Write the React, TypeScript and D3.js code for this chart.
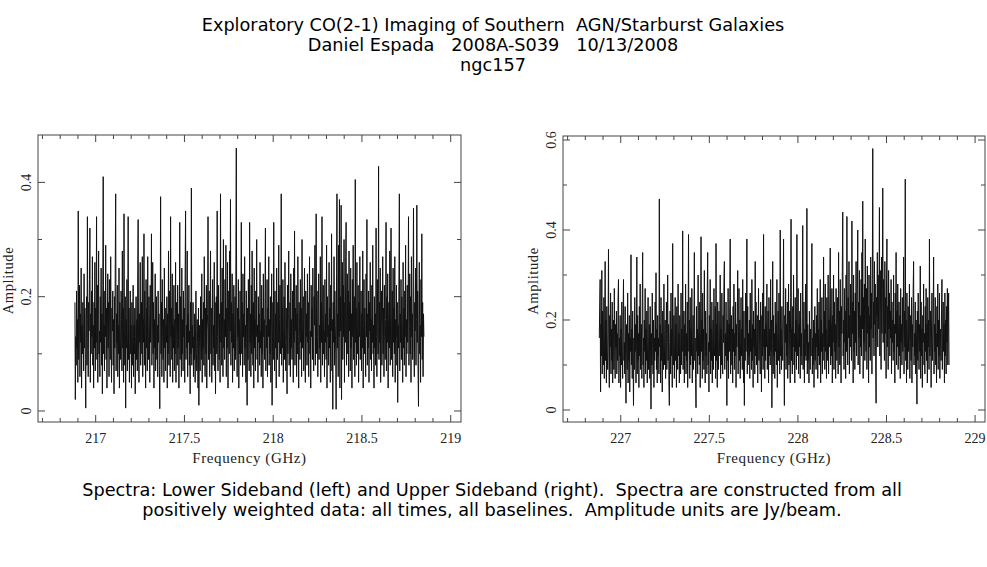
import * as d3 from "d3";
import { useEffect, useRef } from "react";

// amplitude (Jy/beam) per channel
const lsbAmp = [
  0.19, 0.02, 0.13, 0.08, 0.21, 0.11, 0.16, 0.05, 0.35, 0.09, 0.14, 0.22, 0.06, 0.17, 0.12, 0.25, 0.04, 0.15, 0.10, 0.19,
  0.13, 0.07, 0.24, 0.11, 0.18, 0.09, 0.005, 0.16, 0.20, 0.08, 0.34, 0.12, 0.06, 0.19, 0.14, 0.23, 0.32, 0.05, 0.17, 0.10,
  0.21, 0.13, 0.27, 0.08, 0.15, 0.04, 0.19, 0.11, 0.26, 0.07, 0.18, 0.12, 0.34, 0.09, 0.22, 0.05, 0.16, 0.28, 0.10, 0.14,
  0.06, 0.20, 0.12, 0.25, 0.08, 0.17, 0.03, 0.22, 0.41, 0.10, 0.15, 0.07, 0.21, 0.13, 0.29, 0.09, 0.18, 0.04, 0.14, 0.24,
  0.11, 0.19, 0.06, 0.23, 0.15, 0.09, 0.27, 0.12, 0.05, 0.18, 0.14, 0.21, 0.08, 0.16, 0.03, 0.20, 0.11, 0.26, 0.38, 0.07,
  0.17, 0.12, 0.22, 0.06, 0.15, 0.10, 0.25, 0.04, 0.19, 0.13, 0.09, 0.21, 0.16, 0.07, 0.28, 0.11, 0.18, 0.05, 0.345, 0.14,
  0.08, 0.20, 0.005, 0.16, 0.11, 0.23, 0.07, 0.14, 0.34, 0.09, 0.18, 0.05, 0.12, 0.21, 0.10, 0.15, 0.04, 0.19, 0.08, 0.13,
  0.22, 0.06, 0.15, 0.10, 0.18, 0.03, 0.13, 0.20, 0.09, 0.16, 0.07, 0.24, 0.335, 0.11, 0.05, 0.17, 0.12, 0.26, 0.08, 0.14,
  0.19, 0.10, 0.27, 0.06, 0.16, 0.12, 0.31, 0.08, 0.21, 0.14, 0.04, 0.23, 0.11, 0.18, 0.07, 0.27, 0.13, 0.09, 0.20, 0.15,
  0.05, 0.22, 0.12, 0.17, 0.31, 0.08, 0.14, 0.26, 0.10, 0.19, 0.04, 0.16, 0.11, 0.24, 0.07, 0.13, 0.20, 0.09, 0.15, 0.06,
  0.21, 0.12, 0.17, 0.08, 0.004, 0.14, 0.375, 0.10, 0.19, 0.06, 0.23, 0.13, 0.09, 0.16, 0.05, 0.25, 0.11, 0.18, 0.07, 0.15,
  0.12, 0.20, 0.04, 0.17, 0.10, 0.28, 0.08, 0.14, 0.21, 0.06, 0.34, 0.13, 0.18, 0.09, 0.24, 0.05, 0.15, 0.11, 0.22, 0.07,
  0.16, 0.10, 0.26, 0.05, 0.19, 0.13, 0.08, 0.22, 0.11, 0.17, 0.04, 0.14, 0.33, 0.09, 0.20, 0.12, 0.06, 0.25, 0.10, 0.16,
  0.07, 0.21, 0.13, 0.18, 0.05, 0.24, 0.35, 0.09, 0.15, 0.11, 0.28, 0.06, 0.17, 0.12, 0.22, 0.08, 0.14, 0.03, 0.19, 0.10,
  0.39, 0.08, 0.15, 0.11, 0.19, 0.06, 0.13, 0.09, 0.17, 0.05, 0.14, 0.21, 0.10, 0.07, 0.16, 0.12, 0.04, 0.18, 0.01, 0.11,
  0.15, 0.07, 0.20, 0.12, 0.09, 0.24, 0.05, 0.16, 0.11, 0.19, 0.08, 0.27, 0.13, 0.06, 0.18, 0.10, 0.22, 0.04, 0.14, 0.17,
  0.34, 0.09, 0.12, 0.21, 0.06, 0.16, 0.28, 0.10, 0.18, 0.05, 0.13, 0.23, 0.08, 0.15, 0.11, 0.26, 0.07, 0.19, 0.03, 0.14,
  0.20, 0.10, 0.35, 0.13, 0.07, 0.22, 0.15, 0.09, 0.17, 0.05, 0.38, 0.12, 0.19, 0.08, 0.25, 0.14, 0.06, 0.30, 0.11, 0.16,
  0.09, 0.23, 0.13, 0.29, 0.06, 0.18, 0.11, 0.26, 0.04, 0.15, 0.21, 0.10, 0.28, 0.14, 0.37, 0.08, 0.19, 0.12, 0.24, 0.05,
  0.17, 0.11, 0.22, 0.07, 0.14, 0.20, 0.09, 0.26, 0.46, 0.12, 0.06, 0.18, 0.13, 0.23, 0.04, 0.16, 0.10, 0.21, 0.08, 0.15,
  0.33, 0.10, 0.19, 0.06, 0.24, 0.13, 0.17, 0.08, 0.27, 0.11, 0.15, 0.05, 0.21, 0.12, 0.01, 0.18, 0.09, 0.23, 0.14, 0.07,
  0.33, 0.12, 0.17, 0.06, 0.22, 0.10, 0.28, 0.14, 0.08, 0.19, 0.04, 0.25, 0.11, 0.16, 0.07, 0.21, 0.13, 0.30, 0.09, 0.15,
  0.05, 0.20, 0.12, 0.17, 0.08, 0.26, 0.11, 0.14, 0.06, 0.22, 0.10, 0.18, 0.04, 0.24, 0.13, 0.16, 0.09, 0.21, 0.32, 0.07,
  0.15, 0.11, 0.23, 0.06, 0.18, 0.13, 0.27, 0.08, 0.16, 0.10, 0.20, 0.05, 0.14, 0.24, 0.01, 0.12, 0.19, 0.09, 0.33, 0.13,
  0.07, 0.21, 0.11, 0.17, 0.04, 0.25, 0.14, 0.09, 0.19, 0.12, 0.29, 0.06, 0.16, 0.22, 0.10, 0.13, 0.38, 0.08, 0.18, 0.11,
  0.23, 0.05, 0.15, 0.20, 0.09, 0.26, 0.12, 0.07, 0.18, 0.14, 0.03, 0.22, 0.10, 0.17, 0.28, 0.08, 0.13, 0.19, 0.06, 0.24,
  0.11, 0.16, 0.09, 0.21, 0.13, 0.05, 0.25, 0.12, 0.315, 0.08, 0.18, 0.14, 0.22, 0.06, 0.17, 0.10, 0.27, 0.13, 0.04, 0.19,
  0.15, 0.09, 0.23, 0.12, 0.18, 0.06, 0.30, 0.11, 0.14, 0.20, 0.07, 0.16, 0.25, 0.10, 0.05, 0.21, 0.13, 0.17, 0.08, 0.24,
  0.12, 0.19, 0.06, 0.16, 0.27, 0.10, 0.14, 0.04, 0.22, 0.13, 0.18, 0.09, 0.25, 0.11, 0.07, 0.20, 0.15, 0.29, 0.08, 0.17,
  0.345, 0.10, 0.21, 0.13, 0.06, 0.18, 0.24, 0.09, 0.15, 0.11, 0.27, 0.05, 0.19, 0.12, 0.34, 0.08, 0.16, 0.22, 0.10, 0.14,
  0.06, 0.23, 0.12, 0.17, 0.09, 0.29, 0.04, 0.20, 0.13, 0.15, 0.08, 0.26, 0.11, 0.18, 0.05, 0.22, 0.14, 0.31, 0.07, 0.16,
  0.003, 0.19, 0.12, 0.27, 0.08, 0.21, 0.15, 0.10, 0.003, 0.24, 0.38, 0.11, 0.17, 0.06, 0.29, 0.13, 0.37, 0.04, 0.20, 0.14,
  0.36, 0.02, 0.18, 0.26, 0.09, 0.22, 0.13, 0.30, 0.05, 0.19, 0.12, 0.27, 0.33, 0.08, 0.16, 0.24, 0.10, 0.21, 0.06, 0.28,
  0.14, 0.19, 0.07, 0.25, 0.11, 0.17, 0.04, 0.23, 0.13, 0.29, 0.09, 0.15, 0.20, 0.06, 0.405, 0.12, 0.18, 0.08, 0.26, 0.10,
  0.16, 0.22, 0.05, 0.19, 0.13, 0.27, 0.09, 0.14, 0.21, 0.07, 0.17, 0.11, 0.28, 0.04, 0.15, 0.23, 0.10, 0.18, 0.12, 0.06,
  0.24, 0.13, 0.335, 0.08, 0.17, 0.11, 0.21, 0.05, 0.19, 0.14, 0.26, 0.09, 0.16, 0.07, 0.22, 0.12, 0.29, 0.10, 0.15, 0.04,
  0.20, 0.11, 0.17, 0.08, 0.32, 0.13, 0.06, 0.23, 0.15, 0.10, 0.428, 0.09, 0.19, 0.12, 0.25, 0.05, 0.16, 0.21, 0.08, 0.14,
  0.27, 0.10, 0.18, 0.06, 0.22, 0.13, 0.09, 0.16, 0.33, 0.07, 0.20, 0.12, 0.24, 0.04, 0.15, 0.19, 0.11, 0.28, 0.08, 0.17,
  0.32, 0.09, 0.14, 0.21, 0.06, 0.25, 0.12, 0.18, 0.10, 0.27, 0.05, 0.16, 0.13, 0.22, 0.08, 0.19, 0.015, 0.15, 0.11, 0.24,
  0.38, 0.07, 0.17, 0.12, 0.23, 0.09, 0.20, 0.14, 0.05, 0.26, 0.11, 0.18, 0.08, 0.21, 0.13, 0.29, 0.06, 0.16, 0.10, 0.22,
  0.12, 0.18, 0.34, 0.08, 0.15, 0.24, 0.10, 0.20, 0.05, 0.27, 0.13, 0.17, 0.09, 0.22, 0.355, 0.11, 0.06, 0.19, 0.14, 0.25,
  0.08, 0.16, 0.36, 0.12, 0.21, 0.07, 0.008, 0.18, 0.26, 0.10, 0.15, 0.05, 0.23, 0.13, 0.31, 0.09, 0.19, 0.06, 0.17, 0.13,
];

const usbAmp = [
  0.16, 0.24, 0.29, 0.04, 0.19, 0.12, 0.31, 0.08, 0.22, 0.15, 0.10, 0.25, 0.07, 0.18, 0.33, 0.11, 0.20, 0.06, 0.23, 0.13,
  0.09, 0.17, 0.357, 0.12, 0.05, 0.21, 0.14, 0.26, 0.08, 0.18, 0.11, 0.24, 0.06, 0.15, 0.20, 0.09, 0.27, 0.13, 0.07, 0.19,
  0.14, 0.22, 0.08, 0.17, 0.11, 0.25, 0.29, 0.06, 0.16, 0.12, 0.21, 0.05, 0.18, 0.10, 0.24, 0.13, 0.07, 0.20, 0.29, 0.11,
  0.15, 0.08, 0.23, 0.12, 0.015, 0.19, 0.14, 0.09, 0.26, 0.06, 0.17, 0.11, 0.21, 0.04, 0.16, 0.13, 0.345, 0.10, 0.18, 0.07,
  0.22, 0.12, 0.01, 0.16, 0.09, 0.25, 0.13, 0.19, 0.06, 0.14, 0.34, 0.08, 0.21, 0.11, 0.17, 0.05, 0.23, 0.12, 0.28, 0.09,
  0.15, 0.19, 0.07, 0.24, 0.35, 0.10, 0.16, 0.05, 0.20, 0.13, 0.27, 0.08, 0.18, 0.11, 0.22, 0.06, 0.15, 0.25, 0.09, 0.14,
  0.19, 0.07, 0.23, 0.12, 0.002, 0.17, 0.10, 0.26, 0.14, 0.08, 0.20, 0.05, 0.16, 0.11, 0.24, 0.13, 0.305, 0.09, 0.18, 0.06,
  0.21, 0.12, 0.16, 0.08, 0.469, 0.14, 0.19, 0.06, 0.25, 0.11, 0.17, 0.04, 0.22, 0.13, 0.09, 0.28, 0.10, 0.15, 0.20, 0.07,
  0.13, 0.24, 0.09, 0.17, 0.30, 0.11, 0.19, 0.06, 0.01, 0.15, 0.22, 0.08, 0.26, 0.12, 0.18, 0.05, 0.37, 0.14, 0.10, 0.21,
  0.07, 0.16, 0.25, 0.11, 0.19, 0.05, 0.23, 0.13, 0.09, 0.28, 0.12, 0.17, 0.06, 0.21, 0.14, 0.08, 0.26, 0.10, 0.18, 0.13,
  0.398, 0.09, 0.15, 0.22, 0.06, 0.19, 0.12, 0.28, 0.08, 0.17, 0.11, 0.24, 0.05, 0.16, 0.39, 0.13, 0.20, 0.07, 0.25, 0.10,
  0.18, 0.12, 0.27, 0.06, 0.15, 0.21, 0.09, 0.19, 0.35, 0.11, 0.16, 0.07, 0.005, 0.23, 0.13, 0.18, 0.08, 0.30, 0.12, 0.17,
  0.10, 0.24, 0.05, 0.16, 0.385, 0.13, 0.20, 0.07, 0.26, 0.11, 0.18, 0.09, 0.31, 0.14, 0.06, 0.22, 0.12, 0.17, 0.08, 0.27,
  0.35, 0.10, 0.15, 0.04, 0.21, 0.13, 0.29, 0.08, 0.18, 0.11, 0.24, 0.06, 0.16, 0.20, 0.09, 0.27, 0.12, 0.14, 0.23, 0.07,
  0.37, 0.11, 0.19, 0.05, 0.24, 0.14, 0.09, 0.22, 0.16, 0.12, 0.30, 0.07, 0.18, 0.10, 0.26, 0.13, 0.08, 0.21, 0.15, 0.28,
  0.33, 0.09, 0.17, 0.12, 0.24, 0.16, 0.01, 0.20, 0.11, 0.27, 0.07, 0.19, 0.13, 0.25, 0.38, 0.08, 0.15, 0.21, 0.10, 0.18,
  0.06, 0.23, 0.13, 0.28, 0.09, 0.17, 0.12, 0.24, 0.05, 0.19, 0.14, 0.21, 0.31, 0.08, 0.16, 0.27, 0.11, 0.20, 0.07, 0.15,
  0.25, 0.12, 0.18, 0.09, 0.29, 0.14, 0.06, 0.22, 0.01, 0.16, 0.11, 0.26, 0.13, 0.19, 0.38, 0.08, 0.23, 0.10, 0.17, 0.12,
  0.20, 0.07, 0.26, 0.13, 0.16, 0.09, 0.29, 0.11, 0.19, 0.05, 0.22, 0.14, 0.18, 0.08, 0.33, 0.12, 0.24, 0.10, 0.15, 0.21,
  0.06, 0.17, 0.27, 0.11, 0.20, 0.13, 0.08, 0.24, 0.16, 0.04, 0.21, 0.12, 0.26, 0.09, 0.39, 0.14, 0.18, 0.07, 0.23, 0.11,
  0.19, 0.14, 0.28, 0.09, 0.16, 0.22, 0.06, 0.25, 0.12, 0.18, 0.10, 0.29, 0.13, 0.20, 0.005, 0.15, 0.33, 0.08, 0.21, 0.12,
  0.17, 0.07, 0.24, 0.13, 0.19, 0.10, 0.29, 0.05, 0.16, 0.22, 0.11, 0.26, 0.14, 0.08, 0.40, 0.12, 0.18, 0.09, 0.23, 0.15,
  0.11, 0.20, 0.38, 0.13, 0.01, 0.21, 0.15, 0.27, 0.09, 0.19, 0.12, 0.24, 0.07, 0.17, 0.28, 0.10, 0.22, 0.14, 0.06, 0.25,
  0.424, 0.11, 0.18, 0.08, 0.23, 0.14, 0.30, 0.10, 0.17, 0.06, 0.25, 0.13, 0.20, 0.09, 0.39, 0.12, 0.16, 0.27, 0.08, 0.19,
  0.14, 0.22, 0.07, 0.26, 0.12, 0.17, 0.10, 0.21, 0.41, 0.09, 0.15, 0.24, 0.06, 0.18, 0.12, 0.28, 0.11, 0.16, 0.448, 0.08,
  0.19, 0.11, 0.15, 0.06, 0.22, 0.13, 0.09, 0.18, 0.12, 0.25, 0.37, 0.08, 0.16, 0.10, 0.20, 0.05, 0.14, 0.23, 0.11, 0.17,
  0.09, 0.21, 0.14, 0.27, 0.07, 0.18, 0.12, 0.24, 0.10, 0.16, 0.29, 0.06, 0.20, 0.13, 0.25, 0.08, 0.17, 0.11, 0.34, 0.14,
  0.22, 0.09, 0.28, 0.13, 0.18, 0.07, 0.25, 0.15, 0.11, 0.30, 0.08, 0.20, 0.14, 0.26, 0.36, 0.10, 0.19, 0.12, 0.27, 0.06,
  0.21, 0.15, 0.30, 0.09, 0.24, 0.13, 0.19, 0.07, 0.27, 0.16, 0.11, 0.25, 0.18, 0.08, 0.35, 0.14, 0.22, 0.10, 0.29, 0.15,
  0.06, 0.23, 0.17, 0.31, 0.44, 0.12, 0.20, 0.09, 0.27, 0.15, 0.22, 0.07, 0.30, 0.13, 0.43, 0.18, 0.10, 0.25, 0.16, 0.33,
  0.08, 0.21, 0.14, 0.28, 0.19, 0.11, 0.42, 0.17, 0.24, 0.06, 0.30, 0.13, 0.22, 0.09, 0.26, 0.15, 0.33, 0.12, 0.20, 0.27,
  0.40, 0.10, 0.24, 0.16, 0.31, 0.08, 0.21, 0.14, 0.29, 0.12, 0.35, 0.18, 0.464, 0.07, 0.25, 0.15, 0.28, 0.11, 0.38, 0.19,
  0.13, 0.27, 0.09, 0.32, 0.17, 0.23, 0.06, 0.30, 0.14, 0.21, 0.11, 0.34, 0.18, 0.26, 0.08, 0.29, 0.581, 0.16, 0.24, 0.12,
  0.33, 0.19, 0.28, 0.10, 0.015, 0.25, 0.21, 0.35, 0.14, 0.30, 0.18, 0.26, 0.45, 0.12, 0.31, 0.22, 0.09, 0.34, 0.17, 0.27,
  0.493, 0.15, 0.29, 0.20, 0.11, 0.33, 0.17, 0.25, 0.07, 0.28, 0.38, 0.14, 0.23, 0.09, 0.31, 0.18, 0.26, 0.12, 0.22, 0.16,
  0.29, 0.08, 0.24, 0.15, 0.20, 0.11, 0.30, 0.13, 0.19, 0.06, 0.26, 0.17, 0.35, 0.10, 0.22, 0.14, 0.28, 0.09, 0.18, 0.24,
  0.12, 0.21, 0.07, 0.27, 0.15, 0.19, 0.10, 0.25, 0.13, 0.17, 0.34, 0.08, 0.22, 0.14, 0.513, 0.11, 0.20, 0.06, 0.26, 0.16,
  0.09, 0.23, 0.13, 0.18, 0.28, 0.07, 0.21, 0.15, 0.11, 0.25, 0.06, 0.19, 0.14, 0.27, 0.33, 0.10, 0.17, 0.12, 0.24, 0.08,
  0.20, 0.14, 0.013, 0.22, 0.11, 0.26, 0.16, 0.09, 0.19, 0.13, 0.32, 0.07, 0.24, 0.12, 0.18, 0.05, 0.21, 0.15, 0.28, 0.10,
  0.17, 0.08, 0.23, 0.13, 0.27, 0.11, 0.19, 0.06, 0.25, 0.14, 0.20, 0.09, 0.38, 0.12, 0.16, 0.22, 0.05, 0.18, 0.26, 0.11,
  0.15, 0.21, 0.34, 0.08, 0.19, 0.13, 0.25, 0.10, 0.17, 0.06, 0.23, 0.14, 0.28, 0.09, 0.20, 0.12, 0.26, 0.07, 0.18, 0.15,
  0.11, 0.22, 0.29, 0.09, 0.17, 0.24, 0.13, 0.19, 0.06, 0.26, 0.12, 0.20, 0.08, 0.23, 0.15, 0.27, 0.10, 0.18, 0.26, 0.10,
];

// first / last channel frequency (GHz)
const lsbChannels = [216.883, 218.849];
const usbChannels = [226.879, 228.853];

const lsbFreqTicks = [217, 217.5, 218, 218.5, 219];
const usbFreqTicks = [227, 227.5, 228, 228.5, 229];
const lsbAmpTicks = [0, 0.2, 0.4];
const usbAmpTicks = [0, 0.2, 0.4, 0.6];

const titleLines = [
  "Exploratory CO(2-1) Imaging of Southern  AGN/Starburst Galaxies",
  "Daniel Espada   2008A-S039   10/13/2008",
  "ngc157",
];
const captionLines = [
  "Spectra: Lower Sideband (left) and Upper Sideband (right).  Spectra are constructed from all",
  "positively weighted data: all times, all baselines.  Amplitude units are Jy/beam.",
];

const W = 987;
const H = 567;
const axisFont = "'Liberation Serif', 'DejaVu Serif', serif";
const textFont = "'DejaVu Sans', sans-serif";
const frameColor = "#444";

type Panel = {
  amp: number[];
  channels: number[];
  freqTicks: number[];
  ampTicks: number[];
  box: { left: number; right: number; top: number; bottom: number };
  xDomain: [number, number];
  yDomain: [number, number];
};

const panels: Panel[] = [
  {
    amp: lsbAmp,
    channels: lsbChannels,
    freqTicks: lsbFreqTicks,
    ampTicks: lsbAmpTicks,
    box: { left: 38, right: 461, top: 135, bottom: 422 },
    xDomain: [216.675, 219.058],
    yDomain: [-0.0193, 0.4829],
  },
  {
    amp: usbAmp,
    channels: usbChannels,
    freqTicks: usbFreqTicks,
    ampTicks: usbAmpTicks,
    box: { left: 563, right: 985, top: 136, bottom: 422 },
    xDomain: [226.674, 229.056],
    yDomain: [-0.0267, 0.6089],
  },
];

function drawPanel(svg: d3.Selection<SVGSVGElement, unknown, null, undefined>, p: Panel) {
  const { box } = p;
  const x = d3.scaleLinear().domain(p.xDomain).range([box.left, box.right]);
  const y = d3.scaleLinear().domain(p.yDomain).range([box.bottom, box.top]);
  const chan = d3.scaleLinear().domain([0, p.amp.length - 1]).range(p.channels);

  const g = svg.append("g");

  // spectrum
  const line = d3
    .line<number>()
    .x((_, i) => x(chan(i)))
    .y((d) => y(d));
  g.append("path")
    .datum(p.amp)
    .attr("d", line)
    .attr("fill", "none")
    .attr("stroke", "#111")
    .attr("stroke-width", 1);

  // frame
  g.append("rect")
    .attr("x", box.left)
    .attr("y", box.top)
    .attr("width", box.right - box.left)
    .attr("height", box.bottom - box.top)
    .attr("fill", "none")
    .attr("stroke", frameColor)
    .attr("stroke-width", 1);

  // x ticks, minor every 0.1 GHz, inward on bottom and top
  const xMinor = d3
    .range(Math.ceil(p.xDomain[0] * 10), Math.floor(p.xDomain[1] * 10) + 1)
    .map((k) => k / 10);
  xMinor.forEach((f) => {
    const major = Math.abs(f * 2 - Math.round(f * 2)) < 1e-6;
    const len = major ? 7 : 4;
    g.append("line")
      .attr("x1", x(f)).attr("x2", x(f))
      .attr("y1", box.bottom).attr("y2", box.bottom - len)
      .attr("stroke", frameColor);
    g.append("line")
      .attr("x1", x(f)).attr("x2", x(f))
      .attr("y1", box.top).attr("y2", box.top + len)
      .attr("stroke", frameColor);
  });

  // y ticks, minor every 0.1
  const yMinor = d3
    .range(Math.ceil(p.yDomain[0] * 10), Math.floor(p.yDomain[1] * 10) + 1)
    .map((k) => k / 10);
  yMinor.forEach((v) => {
    const major = p.ampTicks.some((t) => Math.abs(t - v) < 1e-6);
    const len = major ? 7 : 4;
    g.append("line")
      .attr("x1", box.left).attr("x2", box.left + len)
      .attr("y1", y(v)).attr("y2", y(v))
      .attr("stroke", frameColor);
    g.append("line")
      .attr("x1", box.right).attr("x2", box.right - len)
      .attr("y1", y(v)).attr("y2", y(v))
      .attr("stroke", frameColor);
  });

  // tick labels
  g.selectAll("text.xl")
    .data(p.freqTicks)
    .join("text")
    .attr("class", "xl")
    .attr("x", (d) => x(d))
    .attr("y", box.bottom + 21)
    .attr("text-anchor", "middle")
    .attr("font-family", axisFont)
    .attr("font-size", 14)
    .attr("fill", "#222")
    .text((d) => String(d));

  g.selectAll("text.yl")
    .data(p.ampTicks)
    .join("text")
    .attr("class", "yl")
    .attr("transform", (d) => `translate(${box.left - 7},${y(d)}) rotate(-90)`)
    .attr("text-anchor", "middle")
    .attr("font-family", axisFont)
    .attr("font-size", 14)
    .attr("fill", "#222")
    .text((d) => String(d));

  // axis titles
  g.append("text")
    .attr("x", (box.left + box.right) / 2)
    .attr("y", box.bottom + 41)
    .attr("text-anchor", "middle")
    .attr("font-family", axisFont)
    .attr("font-size", 15)
    .attr("letter-spacing", 0.6)
    .attr("fill", "#222")
    .text("Frequency (GHz)");

  g.append("text")
    .attr("transform", `translate(${box.left - 25},${(box.top + box.bottom) / 2 + 2}) rotate(-90)`)
    .attr("text-anchor", "middle")
    .attr("font-family", axisFont)
    .attr("font-size", 14.5)
    .attr("letter-spacing", 0.6)
    .attr("fill", "#222")
    .text("Amplitude");
}

export default function App() {
  const ref = useRef<SVGSVGElement | null>(null);

  useEffect(() => {
    if (!ref.current) return;
    const svg = d3.select(ref.current);
    svg.selectAll("*").remove();

    svg.append("rect").attr("width", W).attr("height", H).attr("fill", "#fff");

    svg.append("g")
      .selectAll("text")
      .data(titleLines)
      .join("text")
      .attr("x", 493)
      .attr("y", (_, i) => 31 + i * 20)
      .attr("text-anchor", "middle")
      .attr("font-family", textFont)
      .attr("font-size", 17.7)
      .attr("fill", "#000")
      .style("white-space", "pre")
      .text((d) => d);

    panels.forEach((p) => drawPanel(svg, p));

    svg.append("g")
      .selectAll("text")
      .data(captionLines)
      .join("text")
      .attr("x", 492)
      .attr("y", (_, i) => 496 + i * 20)
      .attr("text-anchor", "middle")
      .attr("font-family", textFont)
      .attr("font-size", 17.7)
      .attr("fill", "#000")
      .style("white-space", "pre")
      .text((d) => d);
  }, []);

  return (
    <div style={{ position: "absolute", left: 0, top: 0 }}>
      <svg ref={ref} width={W} height={H} style={{ display: "block" }}></svg>
    </div>
  );
}
